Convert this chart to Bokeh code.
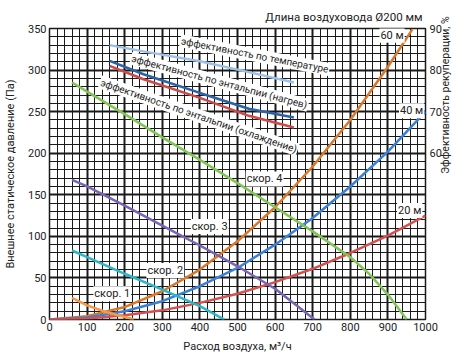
from math import pi
from bokeh.plotting import figure
from bokeh.models import Range1d, LinearAxis, SingleIntervalTicker, FixedTicker, Label
from bokeh.embed import file_html
from bokeh.resources import INLINE

FONT = "Roboto"

# ---- data ----
x_ticks = [0, 100, 200, 300, 400, 500, 600, 700, 800, 900, 1000]
y_ticks = [0, 50, 100, 150, 200, 250, 300, 350]
eff_ticks = [60, 70, 80, 90]

duct_x = [0, 100, 200, 300, 400, 500, 600, 700, 800, 900, 1000]
duct60_x = [0, 100, 200, 300, 400, 500, 600, 700, 800, 900, 965]
duct60_y = [0, 4, 15, 34, 60, 94, 135, 184, 240, 304, 349]
duct40_y = [0, 2.5, 10, 22, 40, 62, 90, 122, 160, 202, 250]
duct20_y = [0, 1.2, 5, 11, 20, 31, 45, 61, 80, 101, 125]

speed4_x = [60, 100, 200, 300, 400, 500, 600, 700, 800, 850, 900, 950]
speed4_y = [285, 274, 247, 219, 192, 164, 135, 106, 75, 55, 30, 0]
speed3_x = [60, 100, 200, 300, 400, 500, 600, 705]
speed3_y = [168, 160, 137, 113, 89, 64, 37, 0]
speed2_x = [60, 100, 200, 300, 400, 465]
speed2_y = [83, 75, 55, 36, 16, 0]
speed1_x = [60, 100, 150, 200, 225]
speed1_y = [26, 17, 9, 3, 0]

eff_x = [160, 250, 400, 530, 650]
eff_temp = [86, 84.5, 82.1, 79.5, 77]
eff_heat = [82.2, 79, 74.5, 70.7, 68.6]
eff_cool = [81, 77.8, 73.3, 69, 66.2]

p = figure(width=461, height=360, output_backend="svg", toolbar_location=None,
           x_range=Range1d(0, 1000), y_range=Range1d(0, 350),
           min_border_top=28, min_border_left=48, min_border_right=30, min_border_bottom=41)
p.extra_y_ranges = {"eff": Range1d(20, 90), "lab": Range1d(0, 100)}
p.background_fill_color = "white"
p.border_fill_color = "white"
p.outline_line_color = "#1a1a1a"
p.outline_line_width = 1.5

p.title.text = "Длина воздуховода Ø200 мм"
p.title.align = "right"
p.title.text_font = FONT
p.title.text_font_size = "11.5px"
p.title.text_font_style = "normal"
p.title.text_color = "#222222"
p.title.offset = 3
p.title.standoff = 9

# grid
for g, major, nminor in ((p.xgrid[0], 100, 5), (p.ygrid[0], 50, 5)):
    g.ticker = SingleIntervalTicker(interval=major, num_minor_ticks=nminor)
    g.grid_line_color = "#1a1a1a"
    g.grid_line_width = 2
    g.minor_grid_line_color = "#1a1a1a"
    g.minor_grid_line_width = 1

def style_axis(ax, std=3, lstd=4, size="11px"):
    ax.axis_line_color = None
    ax.major_tick_line_color = None
    ax.minor_tick_line_color = None
    ax.major_tick_out = 0
    ax.major_tick_in = 0
    ax.minor_tick_out = 0
    ax.minor_tick_in = 0
    ax.major_label_text_font = FONT
    ax.major_label_text_font_size = size
    ax.major_label_text_color = "#222222"
    ax.major_label_standoff = std
    ax.axis_label_text_font = FONT
    ax.axis_label_text_font_size = "11px"
    ax.axis_label_text_font_style = "normal"
    ax.axis_label_text_color = "#222222"
    ax.axis_label_standoff = lstd

p.xaxis.ticker = FixedTicker(ticks=x_ticks)
p.yaxis.ticker = FixedTicker(ticks=y_ticks)
p.xaxis.axis_label = "Расход воздуха, м³/ч"
p.yaxis.axis_label = "Внешнее статическое давление (Па)"
style_axis(p.xaxis[0], 3, 6)
style_axis(p.yaxis[0], 3, 8)

# right axis: ticks only
rax = LinearAxis(y_range_name="eff", ticker=FixedTicker(ticks=eff_ticks))
style_axis(rax, 4, 0)
p.add_layout(rax, "right")

# right axis title on its own axis, reading bottom-to-top
lax = LinearAxis(y_range_name="lab", ticker=FixedTicker(ticks=[]),
                 axis_label="Эффективность рекуперации, %")
style_axis(lax, 0, 1)
lax.major_label_text_font_size = "0px"
lax.axis_label_text_font_size = "10.5px"
lax.axis_label_text_align = "center"
if "axis_label_orientation" in lax.properties():
    lax.axis_label_orientation = pi / 2
p.add_layout(lax, "right")

lw = 2.5
p.line(duct60_x, duct60_y, color="#d9782a", line_width=lw)
p.line(duct_x, duct40_y, color="#3a80d6", line_width=lw)
p.line(duct_x, duct20_y, color="#d4504f", line_width=lw)
p.line(speed4_x, speed4_y, color="#82c457", line_width=lw)
p.line(speed3_x, speed3_y, color="#7865b5", line_width=lw)
p.line(speed2_x, speed2_y, color="#2db6c8", line_width=lw)
p.line(speed1_x, speed1_y, color="#f59a48", line_width=lw)
p.line(eff_x, eff_temp, color="#9dc0e8", line_width=lw, y_range_name="eff")
p.line(eff_x, eff_heat, color="#2b62a8", line_width=lw, y_range_name="eff")
p.line(eff_x, eff_cool, color="#cc4a4a", line_width=lw, y_range_name="eff")

def lab(text, x, y, angle=0.0, size="11px"):
    p.add_layout(Label(x=x, y=y, text=text, angle=angle, text_align="center",
                       text_baseline="middle", text_font=FONT, text_font_size=size,
                       text_color="#222222", background_fill_color="white",
                       background_fill_alpha=1.0, padding=1))

lab("60 м", 911, 342)
lab("40 м", 963, 251)
lab("20 м", 958, 131)
lab("скор. 4", 572, 169)
lab("скор. 3", 426, 112)
lab("скор. 2", 308, 59)
lab("скор. 1", 167, 31)
lab("эффективность по температуре", 546, 318, angle=-11 * pi / 180, size="10px")
lab("эффективность по энтальпии (нагрев)", 452, 286, angle=-15 * pi / 180, size="10px")
lab("эффективность по энтальпии (охлаждение)", 397, 245, angle=-19 * pi / 180, size="10px")

open("out.html", "w").write(file_html(p, INLINE))
